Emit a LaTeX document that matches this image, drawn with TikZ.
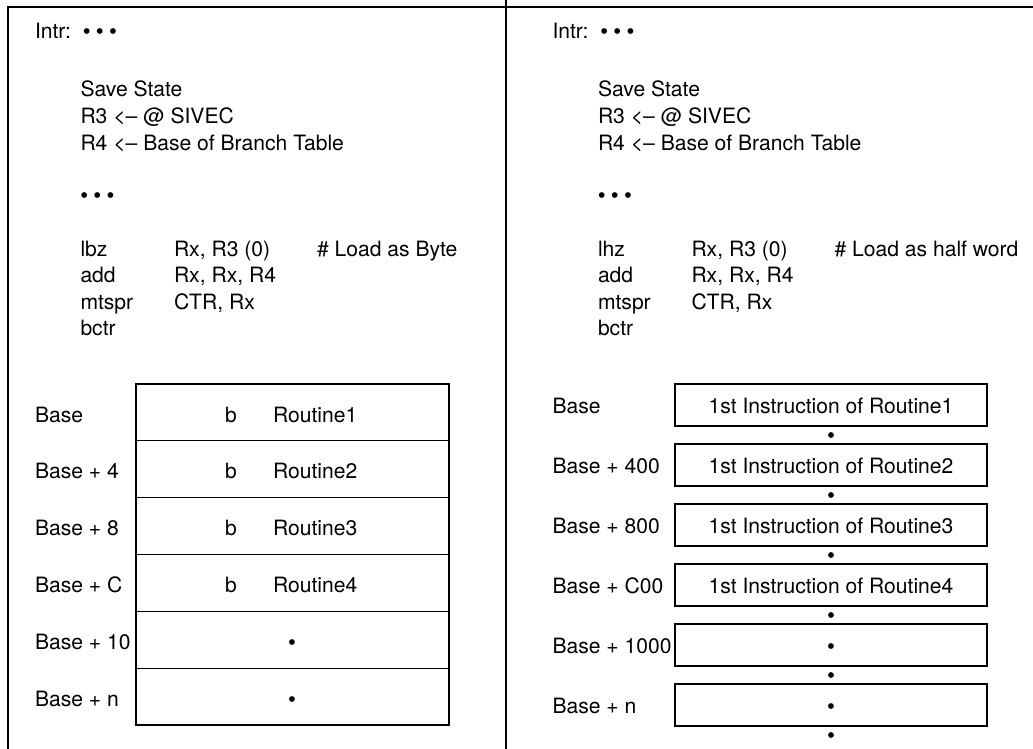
\documentclass[tikz,border=0pt]{standalone}
\usepackage{fontspec}
\setmainfont{TeX Gyre Heros}
\newfontfamily\dotfont{Liberation Sans}
\newcommand{\bul}{{\dotfont •}}
\newcommand{\bulthree}{{\dotfont • • •}}
\begin{document}
\begin{tikzpicture}[x=1pt,y=-1pt,
  every node/.style={inner sep=0pt, outer sep=0pt, font=\fontsize{21.1}{25}\selectfont},
  txt/.style={anchor=base west},
  ctxt/.style={anchor=base},
  frame/.style={line width=2.2pt},
  rowbox/.style={draw, line width=1pt, minimum width=313pt, minimum height=56.83pt},
  outerbox/.style={draw, line width=2pt},
  instbox/.style={draw, line width=2pt, minimum width=312pt, minimum height=42pt},
  gapdot/.style={circle, fill=black, minimum size=5.8pt}]
\useasboundingbox (0,0) rectangle (1033,749);
% frame
\draw[frame] (8,749) -- (8,7) -- (1033,7);
\draw[frame] (506,0) -- (506,749);

% ---------- left panel code ----------
\node[txt] (lintr) at (35,39) {Intr:};
\node[txt] (lintrdots) at (83,39) {\bulthree};
\node[txt] (lsave) at (80.5,97) {Save State};
\node[txt] (lr3) at (80.5,123.5) {R3 <– @ SIVEC};
\node[txt] (lr4) at (80.5,150) {R4 <– Base of Branch Table};
\node[txt] (ldots) at (80.5,202) {\bulthree};
\node[txt] (llbz) at (80.5,256) {lbz};
\node[txt] (llbzop) at (174,256) {Rx, R3 (0)};
\node[txt] (llbzc) at (317,256) {\# Load as Byte};
\node[txt] (ladd) at (80.5,282.5) {add};
\node[txt] (laddop) at (174,282.5) {Rx, Rx, R4};
\node[txt] (lmt) at (80.5,309) {mtspr};
\node[txt] (lmtop) at (174,309) {CTR, Rx};
\node[txt] (lbctr) at (80.5,335.5) {bctr};

% ---------- left table ----------
\foreach \i in {1,...,6} {
  \node[rowbox] (lrow\i) at (292.5, {384+56.83*(\i-0.5)}) {};
}
\draw[outerbox] (lrow1.north west) rectangle (lrow6.south east);
\node[txt] (lb1) at (35,422.1) {Base};
\node[txt] (lb2) at (35,478.9) {Base + 4};
\node[txt] (lb3) at (35,535.8) {Base + 8};
\node[txt] (lb4) at (35,592.6) {Base + C};
\node[txt] (lb5) at (35,649.4) {Base + 10};
\node[txt] (lb6) at (35,706.3) {Base + n};
\foreach \i/\r in {1/Routine1,2/Routine2,3/Routine3,4/Routine4} {
  \node[txt] (lbi\i) at (225, {384+56.83*(\i-0.5)+9.7}) {b};
  \node[txt] (lrt\i) at (273, {384+56.83*(\i-0.5)+9.7}) {\r};
}
\node[ctxt] (ld5) at (292, 649.4) {\bul};
\node[ctxt] (ld6) at (292, 706.3) {\bul};

% ---------- right panel code ----------
\node[txt] (rintr) at (552.5,39) {Intr:};
\node[txt] (rintrdots) at (600.5,39) {\bulthree};
\node[txt] (rsave) at (598,97) {Save State};
\node[txt] (rr3) at (598,123.5) {R3 <– @ SIVEC};
\node[txt] (rr4) at (598,150) {R4 <– Base of Branch Table};
\node[txt] (rdots) at (598,202) {\bulthree};
\node[txt] (rlhz) at (598,256) {lhz};
\node[txt] (rlhzop) at (691.5,256) {Rx, R3 (0)};
\node[txt] (rlhzc) at (834.5,256) {\# Load as half word};
\node[txt] (radd) at (598,282.5) {add};
\node[txt] (raddop) at (691.5,282.5) {Rx, Rx, R4};
\node[txt] (rmt) at (598,309) {mtspr};
\node[txt] (rmtop) at (691.5,309) {CTR, Rx};
\node[txt] (rbctr) at (598,335.5) {bctr};

% ---------- right table ----------
\foreach \i in {1,...,6} {
  \node[instbox] (rbox\i) at (831, {405+60*(\i-1)}) {};
  \node[gapdot] (rgap\i) at (831, {435+60*(\i-1)}) {};
}
\node[txt] (rb1) at (552.5,413.5) {Base};
\node[txt] (rb2) at (552.5,473.5) {Base + 400};
\node[txt] (rb3) at (552.5,533.5) {Base + 800};
\node[txt] (rb4) at (552.5,593.5) {Base + C00};
\node[txt] (rb5) at (552.5,653.5) {Base + 1000};
\node[txt] (rb6) at (552.5,713.5) {Base + n};
\foreach \i in {1,...,4} {
  \node[ctxt] (rin\i) at (831, {413.5+60*(\i-1)}) {1st Instruction of Routine\i};
}
\node[ctxt] (rin5) at (831, 653.5) {\bul};
\node[ctxt] (rin6) at (831, 713.5) {\bul};
\end{tikzpicture}
\end{document}
